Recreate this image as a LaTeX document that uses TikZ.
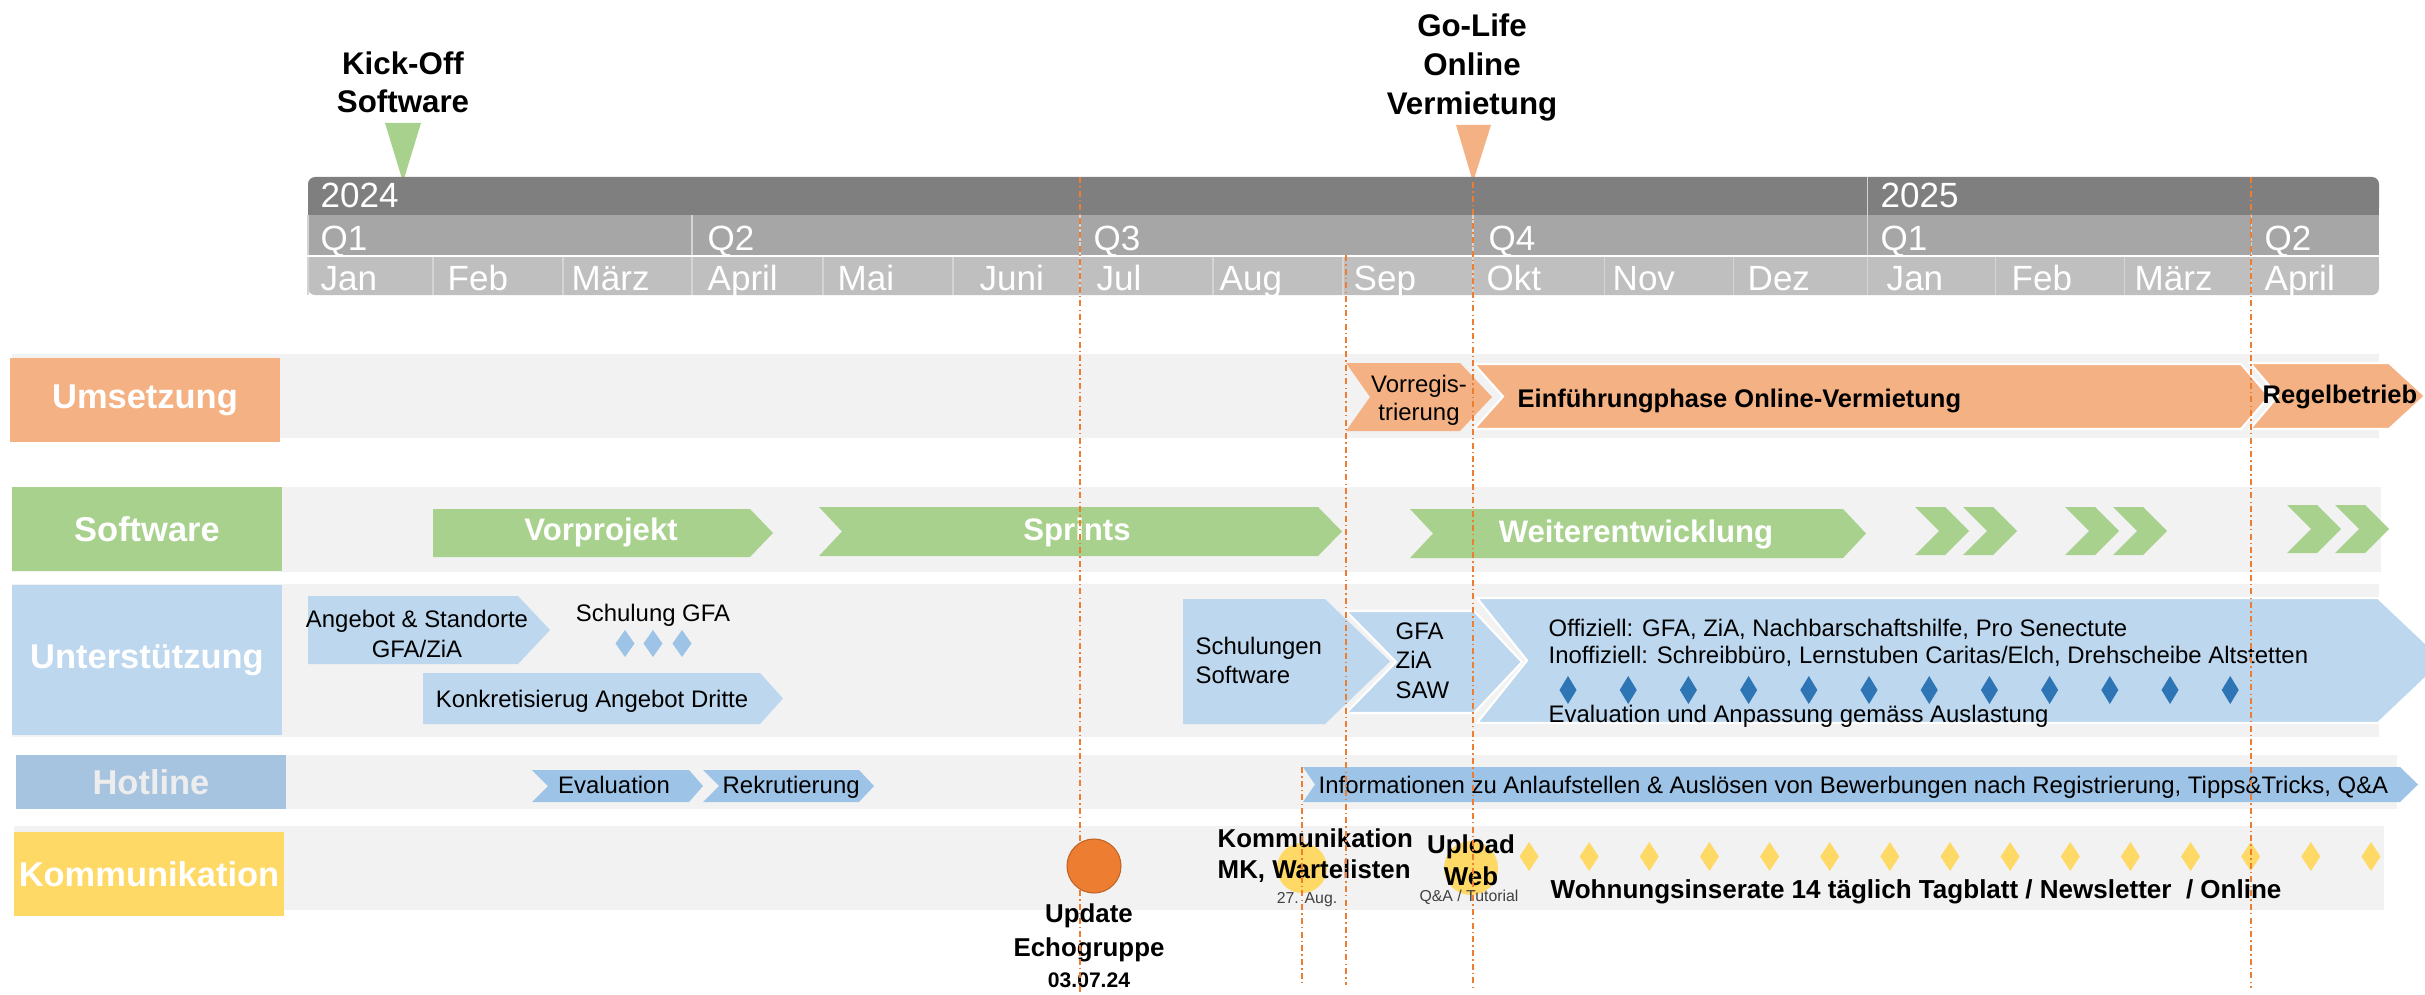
\documentclass[tikz,border=0pt]{standalone}
\usepackage{fontspec}
\setmainfont{Liberation Sans}
\definecolor{umsetz}{HTML}{F4B183}
\definecolor{softw}{HTML}{A9D18E}
\definecolor{unterst}{HTML}{BDD7EE}
\definecolor{hotl}{HTML}{A6C3E0}
\definecolor{hotlarrow}{HTML}{9DC3E6}
\definecolor{komm}{HTML}{FFD966}
\definecolor{band}{HTML}{F2F2F2}
\definecolor{yearrow}{HTML}{7F7F7F}
\definecolor{qrow}{HTML}{A6A6A6}
\definecolor{monrow}{HTML}{BFBFBF}
\definecolor{sepline}{HTML}{D4D4D4}
\definecolor{dkblue}{HTML}{2E75B6}
\definecolor{orng}{HTML}{ED7D31}
% phase arrow: style, left x, body end x, top y, bottom y, notch depth, tip depth
\newcommand{\phase}[7]{%
  \fill[#1] (#2,#4) -- (#3,#4) -- ({#3+#7},{(#4+#5)/2}) -- (#3,#5) -- (#2,#5) -- ({#2+#6},{(#4+#5)/2}) -- cycle;}
\begin{document}
\begin{tikzpicture}[x=0.01cm,y=-0.01cm]
\tikzset{
  hdr/.style={font=\fontsize{9.96}{12}\selectfont,text=white,anchor=base west,inner sep=0},
  lbl/.style={font=\bfseries\fontsize{9.8}{12}\selectfont,text=white,inner sep=0,minimum width=2.7cm},
  ms/.style={font=\bfseries\fontsize{8.9}{10.9}\selectfont,align=center,anchor=base,inner sep=0},
  phw/.style={font=\bfseries\fontsize{8.85}{10}\selectfont,text=white,anchor=base,inner sep=0},
  phb/.style={font=\bfseries\fontsize{7.25}{8.5}\selectfont,anchor=base west,inner sep=0},
  tx/.style={font=\fontsize{6.8}{8}\selectfont,anchor=base,inner sep=0},
  kb/.style={font=\bfseries\fontsize{7.35}{9}\selectfont,anchor=base,inner sep=0},
  tiny/.style={font=\fontsize{4.5}{5}\selectfont,text=darkgray,anchor=base,inner sep=0},
  gap/.style={draw=white,line width=0.6pt},
  golive/.style={orng,line width=0.55pt,dash pattern=on 1.7pt off 0.9pt on 0.4pt off 0.9pt},
}
\useasboundingbox (0,0) rectangle (2425,994);

% milestones
\node[ms] (kickoff) at (403,113) {Kick-Off\\Software};
\fill[softw] (385,123) -- (421,123) -- (403,182) -- cycle;
\node[ms,font=\bfseries\fontsize{8.9}{11.1}\selectfont] (golife) at (1472,115) {Go-Life\\Online\\Vermietung};
\fill[umsetz] (1456,125) -- (1491,125) -- (1473,182) -- cycle;

% time axis
\fill[yearrow,rounded corners=2pt] (308,177) rectangle (2379,215);
\fill[yearrow] (308,200) rectangle (2379,215);
\fill[qrow] (308,215) rectangle (2379,255);
\fill[monrow,rounded corners=2pt] (308,257) rectangle (2379,295);
\fill[monrow] (308,257) rectangle (2379,272);
\draw[sepline,line width=0.3pt] (1867,177) -- (1867,215);
\node[hdr] (y2024) at (320,208) {2024};
\node[hdr] (y2025) at (1880,208) {2025};
\foreach \x/\t/\q in {308/320/Q1, 692/707/Q2, 1080/1093/Q3, 1473/1488/Q4, 1867/1880/Q1, 2251/2264/Q2}{
  \draw[sepline,line width=0.3pt] (\x,215) -- (\x,255);
  \node[hdr] at (\t,250) {\q};
}
\foreach \x/\t/\m in {308/320/Jan, 433/447/Feb, 563/571/März, 692/707/April, 823/837/Mai, 953/979/Juni,
  1080/1096/Jul, 1213/1219/Aug, 1343/1353/Sep, 1473/1486/Okt, 1604/1612/Nov, 1733/1747/Dez,
  1867/1886/Jan, 1995/2011/Feb, 2124/2134/März, 2251/2264/April}{
  \draw[sepline,line width=0.3pt] (\x,257) -- (\x,295);
  \node[hdr] at (\t,290) {\m};
}

% rows
\fill[band] (12,354) rectangle (2379,438);
\fill[band] (12,487) rectangle (2381,572);
\fill[band] (12,584) rectangle (2379,737);
\fill[band] (16,755) rectangle (2397,809);
\fill[band] (14,826) rectangle (2384,910);
\node[lbl,fill=umsetz,minimum height=0.84cm] (umsetzung) at (145,400) {Umsetzung};
\node[lbl,fill=softw,minimum height=0.84cm] (software) at (147,529) {Software};
\node[lbl,fill=unterst,minimum height=1.5cm] (unterstuetzung) at (147,660) {Unterstützung};
\node[lbl,fill=hotl,minimum height=0.54cm,text=white!93!black] (hotline) at (151,782) {Hotline};
\node[lbl,fill=komm,minimum height=0.83cm] (kommunikation) at (149,874) {Kommunikation};

% Umsetzung
\phase{umsetz}{1346}{1460}{363}{431}{24}{32}
\phase{umsetz,gap}{1474}{2241}{364}{429}{29}{28}
\phase{umsetz,gap}{2250}{2389}{363}{429}{28}{36}
\node[tx,align=center,font=\fontsize{6.8}{7.7}\selectfont] (vorreg) at (1419,420) {Vorregis-\\trierung};
\node[phb] (einfuehrung) at (1517,407) {Einführungphase Online-Vermietung};
\node[phb] (regelbetrieb) at (2262,403) {Regelbetrieb};

% Software
\phase{softw}{433}{750}{509}{557}{0}{23}
\phase{softw}{819}{1318}{507}{556}{23}{24}
\phase{softw}{1410}{1843}{509}{558}{23}{23}
\foreach \x in {1915,1963,2065,2113}{\phase{softw}{\x}{\x+30}{507}{555}{24}{24}}
\foreach \x in {2287,2335}{\phase{softw}{\x}{\x+30}{505}{553}{24}{24}}
\node[phw] (vorprojekt) at (601,540) {Vorprojekt};
\node[phw] (sprints) at (1077,540) {Sprints};
\node[phw] (weiter) at (1636,542) {Weiterentwicklung};

% Unterstuetzung
\phase{unterst}{308}{518}{596}{664}{0}{32}
\phase{unterst}{423}{760}{673}{724}{0}{23}
\phase{unterst}{1183}{1325}{599}{724}{0}{65}
\phase{unterst,gap}{1346}{1474}{611}{713}{50}{48}
\phase{unterst,gap}{1477}{2378}{598}{723}{50}{66}
\foreach \x in {625,653,682}{\fill[hotlarrow] (\x,630) -- ++(9.5,13.5) -- ++(-9.5,13.5) -- ++(-9.5,-13.5) -- cycle;}
\foreach \i in {0,...,11}{\fill[dkblue] ({1568+60.2*\i},676) -- ++(8.5,14) -- ++(-8.5,14) -- ++(-8.5,-14) -- cycle;}
\node[tx,align=center,font=\fontsize{6.8}{8.25}\selectfont] (angebot) at (417,657) {Angebot \& Standorte\\GFA/ZiA};
\node[tx] (schulunggfa) at (653,621) {Schulung GFA};
\node[tx] (dritte) at (592,707) {Konkretisierug Angebot Dritte};
\node[tx,anchor=base west,align=left] (schulungen) at (1195,683) {Schulungen\\Software};
\node[tx,anchor=base west,align=left,font=\fontsize{6.8}{8.25}\selectfont] (gfa) at (1395,698) {GFA\\ZiA\\SAW};
\node[tx,anchor=base west,align=left,font=\fontsize{6.8}{7.4}\selectfont] (offiziell) at (1548,663)
  {Offiziell: GFA, ZiA, Nachbarschaftshilfe, Pro Senectute\\Inoffiziell: Schreibbüro, Lernstuben Caritas/Elch, Drehscheibe Altstetten};
\node[tx,anchor=base west] (evalanp) at (1548,722) {Evaluation und Anpassung gemäss Auslastung};

% Hotline
\phase{hotlarrow}{532}{689}{770}{802}{16}{14}
\phase{hotlarrow}{703}{859}{770}{802}{16}{15}
\phase{hotlarrow}{1303}{2400}{767}{802}{12}{18}
\node[tx] (evaluation) at (614,793) {Evaluation};
\node[tx,anchor=base west] (rekrut) at (722,793) {Rekrutierung};
\node[tx,anchor=base west] (infos) at (1318,793)
  {Informationen zu Anlaufstellen \& Auslösen von Bewerbungen nach Registrierung, Tipps\&Tricks, Q\&A};

% Kommunikation
\fill[orng,draw=orng!80!black,line width=0.3pt] (1094,866) circle[radius=27];
\fill[komm] (1302,868) circle[radius=25];
\fill[komm] (1471,868) circle[radius=27];
\foreach \i in {0,...,14}{\fill[komm] ({1529+60.14*\i},842) -- ++(9.5,14.5) -- ++(-9.5,14.5) -- ++(-9.5,-14.5) -- cycle;}
\node[kb,align=center,font=\bfseries\fontsize{7.35}{9.4}\selectfont] (echo) at (1089,956) {Update\\Echogruppe};
\node[kb,font=\bfseries\fontsize{6}{7}\selectfont] (echodatum) at (1089,987) {03.07.24};
\node[kb,anchor=base west,align=left,font=\bfseries\fontsize{7.35}{8.8}\selectfont] (mk) at (1217,878) {Kommunikation\\MK, Wartelisten};
\node[tiny] (mkdatum) at (1307,903) {27. Aug.};
\node[kb,align=center,font=\bfseries\fontsize{7.35}{9.1}\selectfont] (upload) at (1471,885) {Upload\\Web};
\node[tiny] (tutorial) at (1469,901) {Q\&A / Tutorial};
\node[kb,anchor=base west,font=\bfseries\fontsize{7.4}{9}\selectfont] (inserate) at (1550,898) {Wohnungsinserate 14 täglich Tagblatt / Newsletter~ / Online};

% key dates
\draw[golive] (1080,177) -- (1080,994);
\draw[golive] (1346,255) -- (1346,985);
\draw[golive] (1473,182) -- (1473,987);
\draw[golive] (2251,177) -- (2251,988);
\draw[golive] (1302,767) -- (1302,983);
\end{tikzpicture}
\end{document}
